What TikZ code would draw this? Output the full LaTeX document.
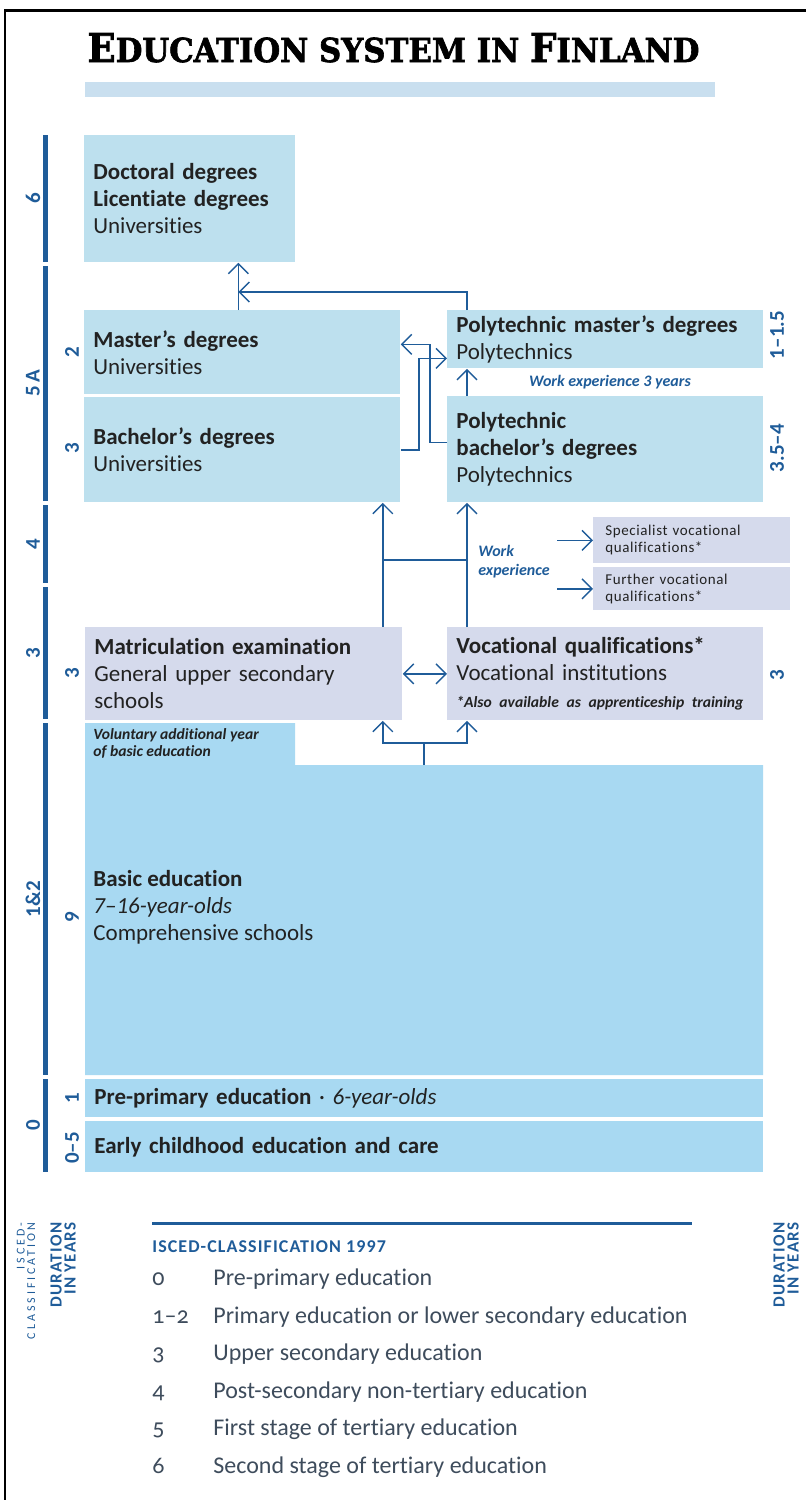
\documentclass[tikz,border=0pt]{standalone}
\usepackage{fontspec}
\usepackage{graphicx}
\setmainfont{Carlito}[Ligatures={TeX,NoCommon}]
\newfontfamily\titlefont{DejaVu Serif}
\usetikzlibrary{arrows.meta,positioning}

\definecolor{finblue}{HTML}{1F5C99}
\definecolor{unibox}{HTML}{BDE0EE}
\definecolor{basicbox}{HTML}{A8D9F2}
\definecolor{vocbox}{HTML}{D5DAEC}
\definecolor{titlebar}{HTML}{C9DFEF}
\definecolor{textdark}{HTML}{222222}
\definecolor{legtext}{HTML}{3E4C5C}

\begin{document}
\begin{tikzpicture}[x=0.5pt,y=-0.5pt,
    edubox/.style={fill=#1, anchor=north west, inner xsep=4.5pt, inner ysep=0pt,
      align=left, text=textdark, font=\fontsize{11.5}{13.5}\selectfont},
    smallbox/.style={fill=vocbox, anchor=north west, inner xsep=6pt, inner ysep=0pt,
      align=left, text=textdark, font=\fontsize{7.5}{8.5}\selectfont\addfontfeature{LetterSpace=4}},
    conn/.style={finblue, line width=0.7pt},
    arr/.style={conn, -{Straight Barb[length=5pt,width=10pt]}},
    dblarr/.style={conn, {Straight Barb[length=5pt,width=10pt]}-{Straight Barb[length=5pt,width=10pt]}},
    iscedbar/.style={finblue, line width=2.5pt},
    yearlab/.style={finblue, rotate=90, inner sep=0pt, font=\bfseries\fontsize{10.5}{10.5}\selectfont},
    note/.style={finblue, inner sep=0pt, align=left, font=\bfseries\itshape\fontsize{8}{9.5}\selectfont},
    sidecap/.style={finblue, rotate=90, anchor=east, align=right, inner sep=0pt},
    legrow/.style={legtext, anchor=west, inner sep=0pt, text height=8pt, text depth=2.5pt,
      font=\fontsize{12}{12}\selectfont\addfontfeature{Numbers=OldStyle}}
  ]
  \useasboundingbox (0,0) rectangle (806,1500);
  % frame and title
  \draw[line width=1.2pt] (806,10.5) -- (5,10.5) -- (5,1500);
  \node[anchor=base west, inner sep=0pt] (title) at (87,62)
    {\resizebox{306pt}{14.5pt}{\titlefont\bfseries\addfontfeature{FakeBold=2}\fontsize{20}{20}\selectfont
      E{\fontsize{16.6}{16.6}\selectfont DUCATION SYSTEM IN }F{\fontsize{16.6}{16.6}\selectfont INLAND}}};
  \fill[titlebar] (85,82) rectangle (715,97);

  % isced scale on the left
  \foreach \a/\b/\lab in {135/262/6, 266/501/5\,A, 505/583/4, 587/719/3, 723/1075/1\&2, 1079/1172/0} {
    \draw[iscedbar] (45.5,\a) -- (45.5,\b);
    \node[yearlab] (isc\a) at (33,{(\a+\b)/2}) {\lab};
  }
  % durations
  \foreach \y/\lab [count=\i] in {352/2, 448/3, 673/3, 917/9, 1098/1, 1148/0--5}
    \node[yearlab] (dur\i) at (72,\y) {\lab};
  \foreach \y/\lab [count=\i] in {335/1--1.5, 448/3.5--4, 675/3}
    \node[yearlab] (rdur\i) at (777,\y) {\lab};

  % boxes
  \node[edubox=unibox, text width=96.5pt, minimum height=63.5pt] (doctoral) at (84,135)
    {\textbf{Doctoral degrees}\\\textbf{Licentiate degrees}\\Universities};
  \node[edubox=unibox, text width=149pt, minimum height=42pt] (masters) at (84,310)
    {\textbf{Master's degrees}\\Universities};
  \node[edubox=unibox, text width=149pt, minimum height=52.5pt] (bachelor) at (84,397)
    {\textbf{Bachelor's degrees}\\Universities};
  \node[edubox=unibox, text width=149pt, minimum height=29pt] (pmaster) at (447,310)
    {\textbf{Polytechnic master's degrees}\\Polytechnics};
  \node[edubox=unibox, text width=149pt, minimum height=53pt] (pbachelor) at (447,396)
    {\textbf{Polytechnic}\\\textbf{bachelor's degrees}\\Polytechnics};
  \node[smallbox, text width=86.5pt, minimum height=23pt] (special) at (593,517)
    {Specialist vocational\\qualifications*};
  \node[smallbox, text width=86.5pt, minimum height=21.5pt] (further) at (593,567)
    {Further vocational\\qualifications*};
  \node[edubox=vocbox, text width=149.5pt, minimum height=46.5pt] (matric) at (85,627)
    {\textbf{Matriculation examination}\\General upper secondary\\schools};
  \node[edubox=vocbox, text width=149pt, minimum height=46.5pt] (voc) at (447,627)
    {\textbf{Vocational qualifications*}\\Vocational institutions\\
     {\bfseries\itshape\fontsize{7.8}{13.5}\selectfont *Also available as apprenticeship training}};
  \fill[basicbox] (85,723) -- (295,723) -- (295,765) -- (763,765) -- (763,1075) -- (85,1075) -- cycle;
  \node[note, text=textdark, anchor=north west, font=\bfseries\itshape\fontsize{7.8}{8.5}\selectfont]
    (voluntary) at (93,728) {Voluntary additional year\\of basic education};
  \node[anchor=west, inner sep=0pt, align=left, text=textdark, font=\fontsize{11.5}{13.5}\selectfont]
    (basic) at (93,907) {\textbf{Basic education}\\\textit{7--16-year-olds}\\Comprehensive schools};
  \node[edubox=basicbox, text width=330pt, minimum height=19pt] (preprimary) at (85,1079)
    {\textbf{Pre-primary education} · \textit{6-year-olds}};
  \node[edubox=basicbox, text width=330pt, minimum height=25.5pt] (early) at (85,1121)
    {\textbf{Early childhood education and care}};

  % notes
  \node[note] (wexp3) at (610,382) {Work experience 3 years};
  \node[note, anchor=west] (wexp) at (478,562) {Work\\experience};

  % connectors
  \coordinate (mtop) at ([xshift=-2pt]masters.north);
  \draw[arr] (mtop) -- (mtop |- doctoral.south);
  \coordinate (pmtop) at ([xshift=10pt]pmaster.north west);
  \draw[arr] (pmtop) |- ([yshift=9pt]mtop);
  \draw[arr] (bachelor.east) -- ++(9pt,0) |- ([yshift=-9.5pt]pmaster.west);
  \draw[arr] ([yshift=3.5pt]pbachelor.west) -- ++(-8.5pt,0) |- ([yshift=4pt]masters.east);
  \draw[arr] ([xshift=10pt]pbachelor.north west) -- ([xshift=10pt]pmaster.south west);
  \coordinate (mup) at ([xshift=-10pt]matric.north east);
  \coordinate (vup) at ([xshift=10pt]voc.north west);
  \draw[arr] (mup) -- (mup |- bachelor.south);
  \draw[arr] (vup) -- (vup |- pbachelor.south);
  \draw[conn] ([yshift=33.5pt]mup) -- ([yshift=33.5pt]vup);
  \coordinate (we1) at ([xshift=-18pt]special.west);
  \coordinate (we2) at ([xshift=-18pt]further.west);
  \draw[arr] (we1) -- (special.west);
  \draw[arr] (we2) -- (further.west);
  \draw[dblarr] (matric.east) -- (voc.west);
  \coordinate (basictop) at (424,765);
  \coordinate (split) at (424,743);
  \draw[conn] (basictop) -- (split);
  \draw[arr] (split) -| ([xshift=-10pt]matric.south east);
  \draw[arr] (split) -| ([xshift=10pt]voc.south west);

  % side captions
  \node[sidecap, font=\fontsize{6}{5.2}\selectfont\addfontfeature{LetterSpace=25}] (isccap) at (26,1222)
    {ISCED-\\CLASSIFICATION};
  \node[sidecap, font=\bfseries\fontsize{8.5}{7}\selectfont\addfontfeature{LetterSpace=8}] (durcap) at (63,1222)
    {DURATION\\IN YEARS};
  \node[sidecap, font=\bfseries\fontsize{8.5}{7}\selectfont\addfontfeature{LetterSpace=8}] (rdurcap) at (786,1222)
    {DURATION\\IN YEARS};

  % legend
  \draw[finblue, line width=1.5pt] (152,1223) -- (692,1223);
  \node[finblue, anchor=west, inner sep=0pt,
    font=\bfseries\fontsize{9}{9}\selectfont\addfontfeature{LetterSpace=6}] (legtitle) at (152,1247)
    {ISCED-CLASSIFICATION 1997};
  \foreach \num/\txt [count=\i from 0] in {0/Pre-primary education,
      1--2/Primary education or lower secondary education, 3/Upper secondary education,
      4/Post-secondary non-tertiary education, 5/First stage of tertiary education,
      6/Second stage of tertiary education} {
    \node[legrow] (lnum\i) at (152,{1280+37.6*\i}) {\num};
    \node[legrow] (ltxt\i) at (213,{1280+37.6*\i}) {\txt};
  }
\end{tikzpicture}
\end{document}
